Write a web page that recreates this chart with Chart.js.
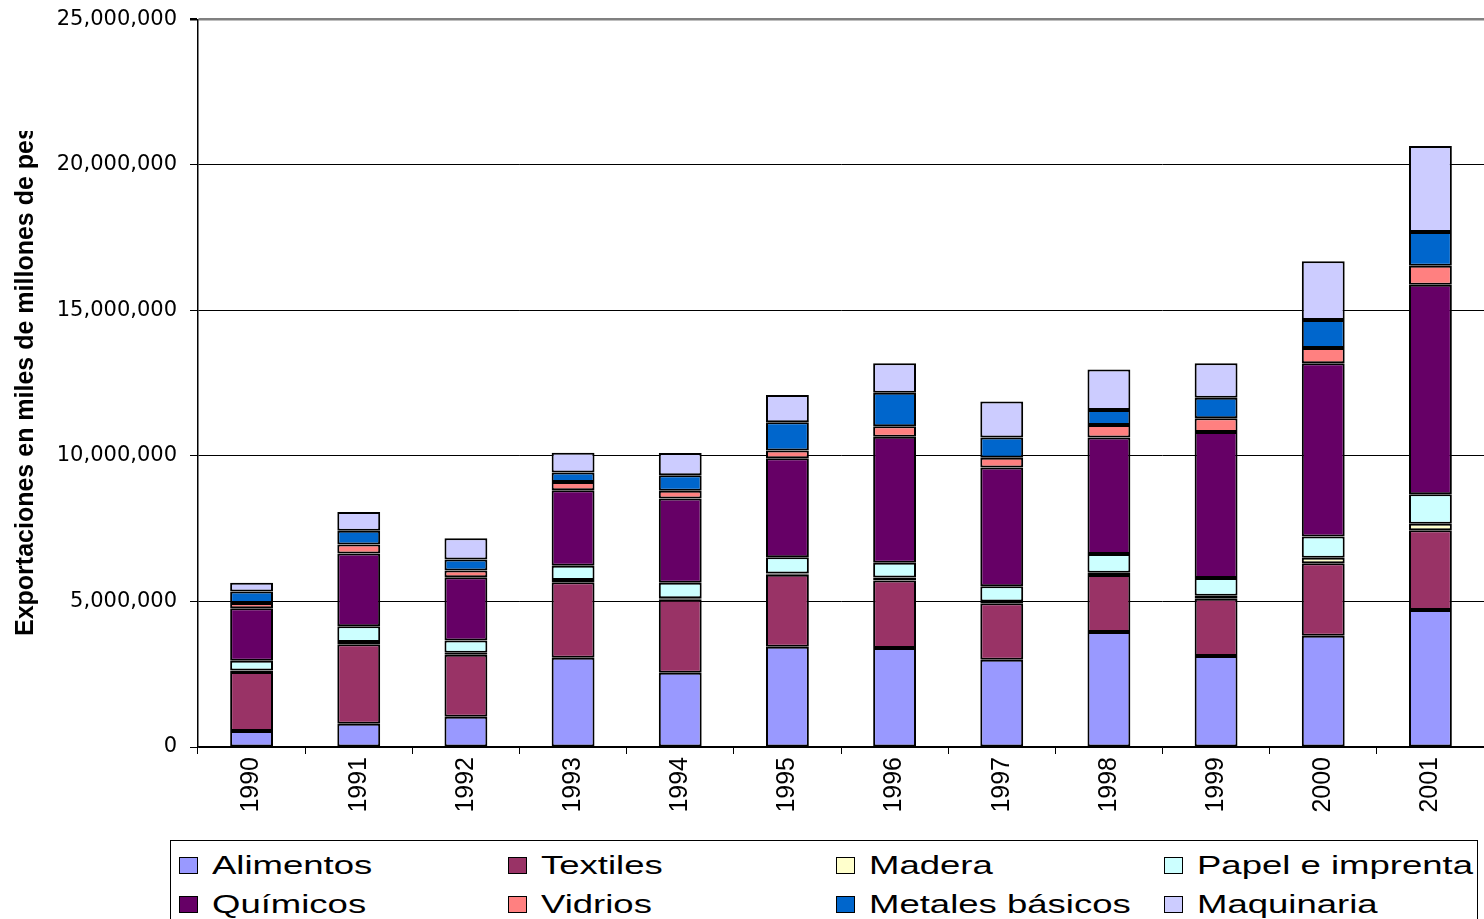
<!DOCTYPE html>
<html>
<head>
<meta charset="utf-8">
<script src="https://cdn.jsdelivr.net/npm/chart.js@4/dist/chart.umd.min.js"></script>
<style>
  body { margin: 0; background: #fff; overflow: hidden; }
  #wrap { position: absolute; left: 0; top: 0; width: 1484px; height: 840px; }
  #legend { position: absolute; left: 170px; top: 840px; width: 1308px; height: 120px; border: 1px solid #000; box-sizing: border-box; }
  .item { position: absolute; height: 30px; display: flex; align-items: center; white-space: nowrap; }
  .sw { width: 17px; height: 15px; border: 1.5px solid #000; }
  .lbl { font: 25px "Liberation Sans", Arial, sans-serif; color: #000; margin-left: 14px; transform: scaleX(1.46); transform-origin: left center; }
</style>
</head>
<body>
<div id="wrap"><canvas id="chart"></canvas></div>
<div id="legend"></div>
<script>
// Exportaciones por sector, 1990-2001
const years = ["1990", "1991", "1992", "1993", "1994", "1995", "1996", "1997", "1998", "1999", "2000", "2001"];
const yTicks = [0, 5000000, 10000000, 15000000, 20000000, 25000000];
const yTitle = "Exportaciones en miles de millones de pesos";

const alimentos  = [550000, 800000, 1040000, 3070000, 2550000, 3440000, 3400000, 3000000, 3950000, 3130000, 3820000, 4710000];
const textiles   = [2030000, 2730000, 2130000, 2590000, 2510000, 2480000, 2320000, 1940000, 1960000, 1960000, 2490000, 2740000];
const madera     = [50000, 80000, 70000, 80000, 50000, 40000, 100000, 60000, 80000, 110000, 190000, 220000];
const papel      = [330000, 540000, 420000, 490000, 530000, 560000, 510000, 520000, 640000, 610000, 730000, 1010000];
const quimicos   = [1810000, 2500000, 2170000, 2590000, 2900000, 3400000, 4330000, 4080000, 4000000, 5010000, 5950000, 7200000];
const vidrios    = [180000, 310000, 230000, 280000, 260000, 270000, 360000, 340000, 430000, 470000, 530000, 650000];
const metales    = [390000, 470000, 380000, 330000, 540000, 970000, 1150000, 690000, 520000, 710000, 960000, 1160000];
const maquinaria = [300000, 640000, 730000, 680000, 760000, 930000, 1010000, 1240000, 1390000, 1180000, 2020000, 2960000];

const series = [
  { label: "Alimentos", data: alimentos, color: "#9999FF" },
  { label: "Textiles", data: textiles, color: "#993366" },
  { label: "Madera", data: madera, color: "#FFFFCC" },
  { label: "Papel e imprenta", data: papel, color: "#CCFFFF" },
  { label: "Químicos", data: quimicos, color: "#660066" },
  { label: "Vidrios", data: vidrios, color: "#FF8080" },
  { label: "Metales básicos", data: metales, color: "#0066CC" },
  { label: "Maquinaria", data: maquinaria, color: "#CCCCFF" },
];

// titulo del eje Y, recortado como en el original
const yTitlePlugin = {
  id: "yTitle",
  afterDraw(chart) {
    const ctx = chart.ctx;
    ctx.save();
    ctx.beginPath();
    ctx.rect(0, 131, 60, 600);
    ctx.clip();
    ctx.translate(33, 636);
    ctx.rotate(-Math.PI / 2);
    ctx.font = "bold 25px 'Liberation Sans', Arial, sans-serif";
    ctx.fillStyle = "#000";
    ctx.textAlign = "left";
    ctx.textBaseline = "alphabetic";
    ctx.fillText(yTitle, 0, 0);
    ctx.restore();
  },
};

const isTop = ctx => ctx.tick && ctx.tick.value === yTicks[yTicks.length - 1];

new Chart(document.getElementById("chart"), {
  type: "bar",
  data: {
    labels: years,
    datasets: series.map(s => ({
      label: s.label,
      data: s.data,
      backgroundColor: s.color,
      borderColor: "#000",
      borderWidth: 2,
      borderSkipped: false,
      categoryPercentage: 1,
      barPercentage: 0.4,
    })),
  },
  options: {
    responsive: true,
    maintainAspectRatio: false,
    animation: false,
    layout: { padding: { top: 17, right: 0, left: 0, bottom: 0 } },
    plugins: {
      legend: { display: false },
      tooltip: { enabled: false },
    },
    scales: {
      x: {
        stacked: true,
        grid: { drawOnChartArea: false, drawTicks: true, tickLength: 7, color: "#000", offset: true },
        border: { color: "#000", width: 1.5 },
        ticks: {
          color: "#000",
          font: { family: "Liberation Sans", size: 25 },
          minRotation: 90,
          maxRotation: 90,
          padding: 3,
          autoSkip: false,
        },
        afterFit(scale) { scale.height = 93; },
      },
      y: {
        stacked: true,
        min: yTicks[0],
        max: yTicks[yTicks.length - 1],
        afterBuildTicks(scale) { scale.ticks = yTicks.map(v => ({ value: v })); },
        ticks: {
          color: "#000",
          font: { family: "DejaVu Sans", size: 21, lineHeight: 0.6 },
          padding: 13,
          callback: v => v.toLocaleString("en-US"),
        },
        grid: {
          color: ctx => isTop(ctx) ? "#808080" : "#000",
          lineWidth: ctx => isTop(ctx) ? 2.5 : 1,
          tickColor: "#000",
          tickLength: 8,
        },
        border: { color: "#000", width: 1.5 },
        afterFit(scale) { scale.width = 198; },
      },
    },
  },
  plugins: [yTitlePlugin],
});

// leyenda en cuadricula de 4 columnas
const legendCols = [8, 337, 665, 993];
const legendRows = [9, 48];
const legend = document.getElementById("legend");
legend.innerHTML = series.map((s, i) => `
  <div class="item" style="left:${legendCols[i % 4]}px; top:${legendRows[Math.floor(i / 4)]}px">
    <div class="sw" style="background:${s.color}"></div>
    <span class="lbl">${s.label}</span>
  </div>
`).join("");
</script>
</body>
</html>
